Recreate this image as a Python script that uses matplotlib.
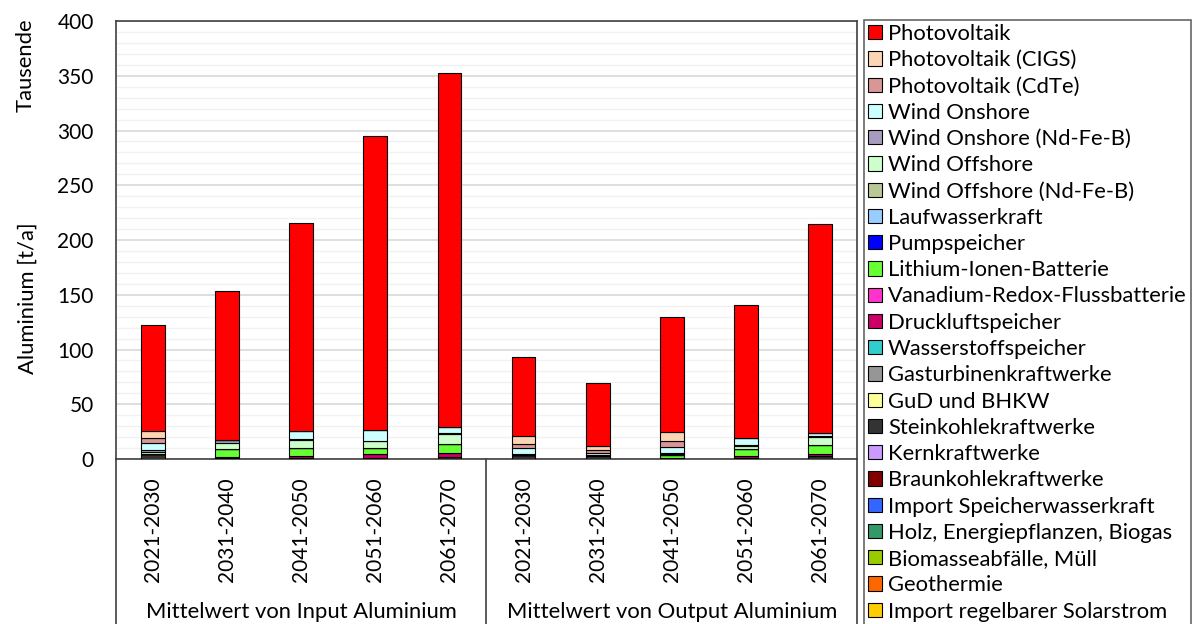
import matplotlib.pyplot as plt
from matplotlib.patches import Patch
from matplotlib.ticker import MultipleLocator

plt.rcParams['font.family'] = ['Lato', 'DejaVu Sans']
plt.rcParams['font.size'] = 15.8

periods = ['2021-2030', '2031-2040', '2041-2050', '2051-2060', '2061-2070']
groups = ['Mittelwert von Input Aluminium', 'Mittelwert von Output Aluminium']

# Tausend t/a, first five = Input, last five = Output
photovoltaik = [97, 136, 190, 269, 323, 72, 58, 105, 122, 191]
pv_cigs = [6.5, 0, 0, 0, 0, 7.5, 3.3, 8.0, 0, 0]
pv_cdte = [4.5, 0, 0, 0, 0, 3.7, 3.0, 5.0, 0, 0]
wind_on = [7.0, 0, 6.8, 9.5, 5.2, 5.6, 1.2, 6.0, 6.5, 2.5]
wind_on_ndfeb = [1.0, 2.0, 1.0, 0.5, 1.0, 0.6, 0.5, 0.8, 0.5, 0.5]
wind_off = [1.8, 6.2, 7.2, 6.5, 9.8, 0, 0, 0.8, 3.3, 8.0]
wind_off_ndfeb = [0, 0, 0, 0, 0, 0, 0, 0, 0, 0]
laufwasser = [0, 0, 0, 0, 0, 0, 0, 0, 0, 0]
pumpspeicher = [0, 0, 0, 0, 0, 0, 0, 0, 0, 0]
lithium = [0, 6.8, 7.6, 5.5, 7.5, 0, 0, 2.7, 6.2, 8.0]
vanadium = [0, 0, 0, 0, 0, 0, 0, 0, 0, 0]
druckluft = [0, 1.0, 1.8, 3.0, 4.3, 0, 0, 0, 1.5, 2.0]
wasserstoff = [0, 0, 0, 0, 0, 0, 0, 0, 0, 0]
gasturbinen = [0, 0, 0, 0, 0, 0, 1.2, 0, 0, 0]
gud = [0, 0, 0, 0, 0, 0, 0, 0, 0, 0]
steinkohle = [5.0, 1.0, 1.0, 1.2, 1.5, 4.0, 2.4, 1.0, 1.0, 2.5]
kern = [0] * 10
braunkohle = [0] * 10
import_speicher = [0] * 10
holz = [0] * 10
biomasse = [0] * 10
geothermie = [0] * 10
import_solar = [0] * 10

series = [
    ('Photovoltaik', photovoltaik, '#FF0000'),
    ('Photovoltaik (CIGS)', pv_cigs, '#FCD5B5'),
    ('Photovoltaik (CdTe)', pv_cdte, '#DA9694'),
    ('Wind Onshore', wind_on, '#CCFFFF'),
    ('Wind Onshore (Nd-Fe-B)', wind_on_ndfeb, '#A89CBE'),
    ('Wind Offshore', wind_off, '#CCFFCC'),
    ('Wind Offshore (Nd-Fe-B)', wind_off_ndfeb, '#B8C994'),
    ('Laufwasserkraft', laufwasser, '#99CCFF'),
    ('Pumpspeicher', pumpspeicher, '#0000FF'),
    ('Lithium-Ionen-Batterie', lithium, '#66FF33'),
    ('Vanadium-Redox-Flussbatterie', vanadium, '#FF33CC'),
    ('Druckluftspeicher', druckluft, '#CC0066'),
    ('Wasserstoffspeicher', wasserstoff, '#33CCCC'),
    ('Gasturbinenkraftwerke', gasturbinen, '#969696'),
    ('GuD und BHKW', gud, '#FFFF99'),
    ('Steinkohlekraftwerke', steinkohle, '#333333'),
    ('Kernkraftwerke', kern, '#CC99FF'),
    ('Braunkohlekraftwerke', braunkohle, '#800000'),
    ('Import Speicherwasserkraft', import_speicher, '#3366FF'),
    ('Holz, Energiepflanzen, Biogas', holz, '#339966'),
    ('Biomasseabfälle, Müll', biomasse, '#99CC00'),
    ('Geothermie', geothermie, '#FF6600'),
    ('Import regelbarer Solarstrom', import_solar, '#FFCC00'),
]

W, H = 1201, 624
fig = plt.figure(figsize=(W / 100, H / 100), dpi=100)
ax = fig.add_axes([116 / W, 1 - 459 / H, (857 - 116) / W, (459 - 21) / H])

x = list(range(10))
bottom = [0.0] * 10
# last legend entry sits at the bottom of each stack
for name, vals, col in reversed(series):
    ax.bar(x, vals, width=0.32, bottom=bottom, color=col,
           edgecolor='black', linewidth=0.8, zorder=3)
    bottom = [b + v for b, v in zip(bottom, vals)]

ax.set_xlim(-0.5, 9.5)
ax.set_ylim(0, 400)
ax.yaxis.set_major_locator(MultipleLocator(50))
ax.yaxis.set_minor_locator(MultipleLocator(10))
ax.grid(axis='y', which='major', color='#D9D9D9', linewidth=1.2, zorder=0)
ax.grid(axis='y', which='minor', color='#F2F2F2', linewidth=1.0, zorder=0)
ax.tick_params(axis='y', which='both', length=0, pad=16, labelsize=15)
ax.set_xticks(x)
ax.set_xticklabels(periods * 2, rotation=90, va='top')
ax.tick_params(axis='x', length=0, pad=13, labelsize=15)
for s in ax.spines.values():
    s.set_color('#404040')
    s.set_linewidth(1.2)

# frame lines of the two-level category axis
for xa in (0, 0.5, 1):
    ax.plot([xa, xa], [0, -0.5], transform=ax.transAxes, color='#404040',
            linewidth=1.2, clip_on=False)
for i, g in enumerate(groups):
    ax.text(0.25 + 0.5 * i, -0.35, g, transform=ax.transAxes,
            ha='center', va='center', fontsize=15.8)

fig.text(28 / W, 1 - 298 / H, 'Aluminium [t/a]', rotation=90,
         ha='center', va='center', fontsize=15.8)
fig.text(26 / W, 1 - 18 / H, 'Tausende', rotation=90,
         ha='center', va='top', fontsize=15.8)

handles = [Patch(facecolor=c, edgecolor='black', linewidth=0.8) for _, _, c in series]
labels = [n for n, _, _ in series]
leg = fig.legend(handles, labels, loc='upper left',
                 bbox_to_anchor=(864 / W, 1 - 20 / H), fontsize=15.8,
                 frameon=True, fancybox=False, edgecolor='#404040',
                 handlelength=0.62, handleheight=0.62, handletextpad=0.3,
                 labelspacing=0.285, borderpad=0.18, borderaxespad=0)
leg.get_frame().set_linewidth(1.2)

fig.savefig('out.png', dpi=100)
